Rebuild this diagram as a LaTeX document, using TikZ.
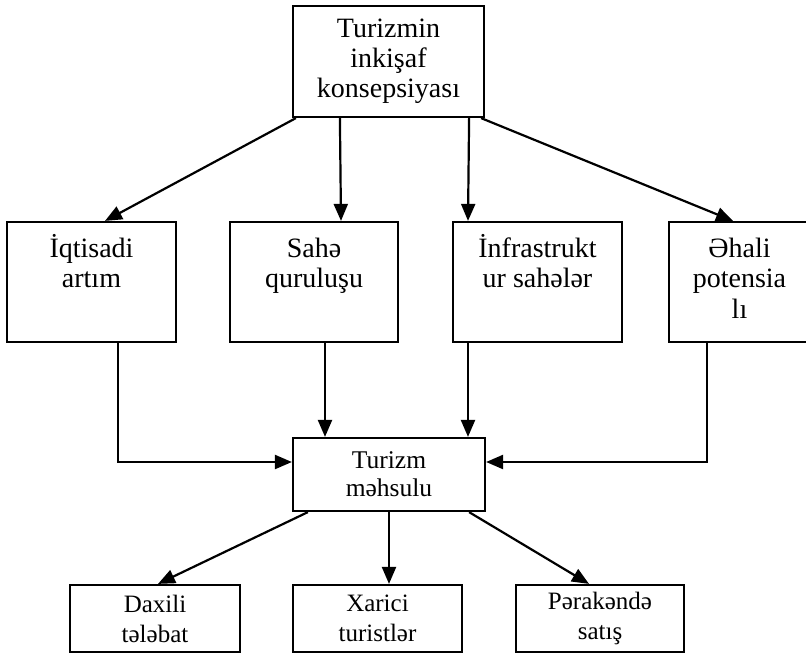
\documentclass[tikz,border=0pt]{standalone}
\usepackage{fontspec}
\setmainfont{Liberation Serif}
\usetikzlibrary{arrows.meta}

\begin{document}
\begin{tikzpicture}[x=1pt,y=-1pt]
	\tikzstyle{every node}+=[inner sep=0pt]
	\tikzstyle{box}=[draw=black, line width=2.2pt, rectangle, align=center]
	\tikzstyle{bigtext}=[font=\fontsize{28}{30}\selectfont, align=center]
	\tikzstyle{rowtext}=[font=\fontsize{28}{30.5}\selectfont, align=center, anchor=base]
	\tikzstyle{smalltext}=[font=\fontsize{25.5}{28}\selectfont]
	\tikzstyle{arr}=[draw=black, line width=2.2pt, -{Triangle[length=17pt,width=14pt]}]
	\useasboundingbox (0,0) rectangle (806,656);
	\clip (0,0) rectangle (806,656);
	\node [box, bigtext, minimum width=191, minimum height=111] (konsepsiya) at (388.5,61.5) {Turizmin\\inkişaf\\konsepsiyası};
	\node [box, minimum width=169, minimum height=120] (iqtisadi) at (91.5,282) {};
	\node [rowtext] (iqtisaditext) at (91.5,287.5) {İqtisadi\\artım};
	\node [box, minimum width=168, minimum height=120] (sahe) at (314,282) {};
	\node [rowtext] (sahetext) at (314,287.5) {Sahə\\quruluşu};
	\node [box, minimum width=169, minimum height=120] (infra) at (537.5,282) {};
	\node [rowtext] (infratext) at (537.5,287.5) {İnfrastrukt\\ur sahələr};
	\node [box, minimum width=141, minimum height=120] (ehali) at (739.5,282) {};
	\node [rowtext] (ehalitext) at (739.5,318) {Əhali\\potensia\\lı};
	\node [box, smalltext, minimum width=192, minimum height=73] (mehsul) at (389,474.5) {Turizm\\məhsulu};
	\node [box, smalltext, font=\fontsize{25}{30}\selectfont, minimum width=170, minimum height=67] (daxili) at (155,618.5) {Daxili\\tələbat};
	\node [box, smalltext, font=\fontsize{25}{30}\selectfont, minimum width=169, minimum height=67] (xarici) at (377.5,618.5) {Xarici\\turistlər};
	\node [box, smalltext, font=\fontsize{25}{30}\selectfont, minimum width=168, minimum height=67] (perakende) at (600,618.5) {Pərakəndə\\satış};
	\draw [arr] ([xshift=4]konsepsiya.south west) -- ([xshift=13.5]iqtisadi.north);
	\draw [arr] ([xshift=48]konsepsiya.south west) -- ([xshift=27]sahe.north);
	\draw [arr] ([xshift=-16]konsepsiya.south east) -- ([xshift=-69.5]infra.north);
	\draw [arr] ([xshift=-4]konsepsiya.south east) -- ([xshift=-6.5]ehali.north);
	\draw [arr] ([xshift=26.5]iqtisadi.south) |- ([yshift=12.5]mehsul.west);
	\draw [arr] ([xshift=11]sahe.south) -- ([xshift=-64]mehsul.north);
	\draw [arr] ([xshift=-69.5]infra.south) -- ([xshift=79]mehsul.north);
	\draw [arr] ([xshift=-32.5]ehali.south) |- ([yshift=12.5]mehsul.east);
	\draw [arr] ([xshift=16]mehsul.south west) -- ([xshift=3]daxili.north);
	\draw [arr] (mehsul.south) -- ([xshift=11.5]xarici.north);
	\draw [arr] ([xshift=-17]mehsul.south east) -- ([xshift=-11]perakende.north);
\end{tikzpicture}
\end{document}
